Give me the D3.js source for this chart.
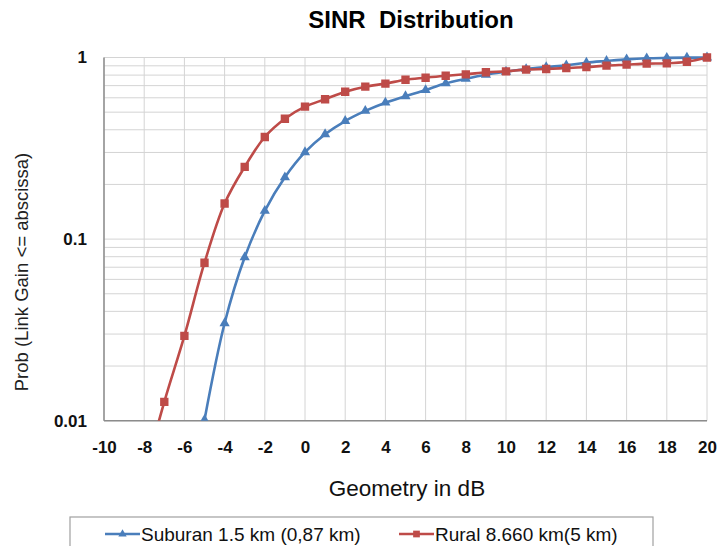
<!DOCTYPE html>
<html>
<head>
<meta charset="utf-8">
<script src="https://cdn.jsdelivr.net/npm/d3@7"></script>
<style>
  body { margin: 0; background: #fff; }
  svg { display: block; font-family: "Liberation Sans", Arial, sans-serif; }
</style>
</head>
<body>
<svg id="chart" width="718" height="546"></svg>
<script>
// SINR distribution
const xTicks = d3.range(-10, 21, 2)
const yTicks = [0.01, 0.1, 1]

const suburbanX = d3.range(-5, 21)
const suburbanY = [0.0101, 0.0344, 0.0794, 0.143, 0.219, 0.301, 0.378, 0.447, 0.508, 0.564,
  0.612, 0.662, 0.721, 0.764, 0.804, 0.835, 0.864, 0.886, 0.906, 0.936, 0.957, 0.977, 0.99, 0.995, 0.998, 1.0]

const ruralX = d3.range(-8, 21)
const ruralY = [0.005, 0.0127, 0.0293, 0.0741, 0.157, 0.25, 0.365, 0.46, 0.536, 0.589, 0.648, 0.691,
  0.718, 0.754, 0.774, 0.794, 0.808, 0.829, 0.839, 0.857, 0.864, 0.875, 0.886, 0.902, 0.913, 0.925, 0.929, 0.948, 1.0]

const seriesNames = ["Suburan 1.5 km (0,87 km)", "Rural 8.660 km(5 km)"]
const seriesColors = ["#4a7ebb", "#be4b48"]

const svg = d3.select("#chart")
const pL = 104, pR = 707, pT = 57.5, pB = 420.7

const x = d3.scaleLinear().domain([-10, 20]).range([pL, pR])
const y = d3.scaleLog().domain([0.01, 1]).range([pB, pT])

// minor grid values 0.01..1
let minor = []
for (let d = 0.01; d < 1; d *= 10) {
    for (let k = 1; k < 10; k++) minor.push(+(d * k).toPrecision(2))
}
minor.push(1)

const grid = svg.append("g")
grid.selectAll("line.h").data(minor).join("line")
    .attr("x1", pL).attr("x2", pR)
    .attr("y1", d => y(d)).attr("y2", d => y(d))
    .style("stroke", "#d4d4d4").style("stroke-width", 1)
grid.selectAll("line.v").data(xTicks).join("line")
    .attr("x1", d => x(d)).attr("x2", d => x(d))
    .attr("y1", pT).attr("y2", pB)
    .style("stroke", "#d4d4d4").style("stroke-width", 1)

// axis lines
svg.append("line").attr("x1", pL).attr("x2", pL).attr("y1", pT).attr("y2", pB)
    .style("stroke", "#8c8c8c").style("stroke-width", 1.5)
svg.append("line").attr("x1", pL).attr("x2", pR).attr("y1", pB).attr("y2", pB)
    .style("stroke", "#8c8c8c").style("stroke-width", 1.5)

// tick labels (plain hyphen like the original)
const xAxis = svg.append("g").attr("transform", `translate(0,${pB})`)
    .call(d3.axisBottom(x).tickValues(xTicks).tickSize(0).tickPadding(20).tickFormat(d => String(d)))
xAxis.select(".domain").remove()
xAxis.selectAll("text").style("font-size", "17px").style("font-weight", "bold")
    .style("font-family", "Liberation Sans, Arial, sans-serif").attr("fill", "#111")

const yAxis = svg.append("g").attr("transform", `translate(${pL},0)`)
    .call(d3.axisLeft(y).tickValues(yTicks).tickSize(0).tickPadding(17).tickFormat(d => d))
yAxis.select(".domain").remove()
yAxis.selectAll("text").style("font-size", "17px").style("font-weight", "bold")
    .style("font-family", "Liberation Sans, Arial, sans-serif").attr("fill", "#111")

// title + axis titles
svg.append("text").attr("x", 411).attr("y", 28).attr("text-anchor", "middle")
    .style("font-size", "24px").style("font-weight", "bold").style("white-space", "pre")
    .text("SINR  Distribution")
svg.append("text").attr("x", 407).attr("y", 496).attr("text-anchor", "middle")
    .style("font-size", "22.5px").attr("fill", "#111")
    .text("Geometry in dB")
svg.append("text").attr("transform", "translate(28,272) rotate(-90)").attr("text-anchor", "middle")
    .style("font-size", "18.5px").attr("fill", "#222")
    .text("Prob (Link Gain <= abscissa)")

// series
svg.append("clipPath").attr("id", "plotClip").append("rect")
    .attr("x", pL).attr("y", pT - 8).attr("width", pR - pL + 10).attr("height", pB - pT + 8)

const series = [
    {name: seriesNames[0], color: seriesColors[0], pts: suburbanX.map((d, i) => [d, suburbanY[i]]), mark: "tri"},
    {name: seriesNames[1], color: seriesColors[1], pts: ruralX.map((d, i) => [d, ruralY[i]]), mark: "sq"}
]

const line = d3.line().x(d => x(d[0])).y(d => y(d[1])).curve(d3.curveCatmullRom.alpha(0.5))
const tri = d3.symbol().type(d3.symbolTriangle).size(45)
const sq = d3.symbol().type(d3.symbolSquare).size(70)

const plot = svg.append("g").attr("clip-path", "url(#plotClip)")
series.forEach(s => {
    plot.append("path").datum(s.pts).attr("d", line)
        .style("fill", "none").style("stroke", s.color).style("stroke-width", 2.6)
    plot.selectAll(null).data(s.pts.filter(p => p[1] >= 0.0099)).join("path")
        .attr("transform", p => `translate(${x(p[0])},${y(p[1])})`)
        .attr("d", s.mark == "tri" ? tri : sq)
        .style("fill", s.color)
})

// legend
const lg = svg.append("g")
lg.append("rect").attr("x", 70).attr("y", 517).attr("width", 583).attr("height", 40)
    .style("fill", "#fff").style("stroke", "#a0a0a0").style("stroke-width", 1.2)
const legendPos = [105, 399]
series.forEach((s, i) => {
    const lx = legendPos[i]
    lg.append("line").attr("x1", lx).attr("x2", lx + 35).attr("y1", 534).attr("y2", 534)
        .style("stroke", s.color).style("stroke-width", 2.6)
    lg.append("path").attr("transform", `translate(${lx + 17.5},534)`)
        .attr("d", s.mark == "tri" ? d3.symbol().type(d3.symbolTriangle).size(30) : d3.symbol().type(d3.symbolSquare).size(45))
        .style("fill", s.color)
    lg.append("text").attr("x", lx + 36).attr("y", 541)
        .style("font-size", "19px").attr("fill", "#111")
        .text(s.name)
})
</script>
</body>
</html>
